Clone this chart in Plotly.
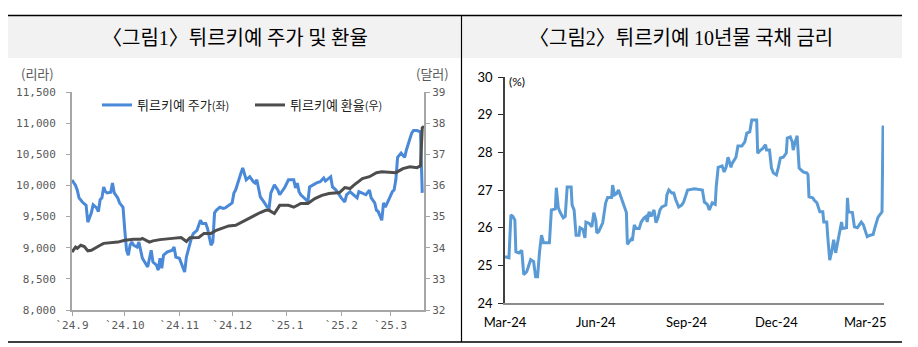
import plotly.graph_objects as go

W, H = 918, 347

# ---- Figure 1: Turkish stock index (lira, left) and USD/TRY (right) ----
stock_dates = [
    "2024-09-01", "2024-09-03", "2024-09-04", "2024-09-05", "2024-09-07", "2024-09-09",
    "2024-09-10", "2024-09-12", "2024-09-13", "2024-09-15", "2024-09-16", "2024-09-17",
    "2024-09-18", "2024-09-19", "2024-09-20", "2024-09-21", "2024-09-23", "2024-09-24",
    "2024-09-25", "2024-09-27", "2024-09-28", "2024-09-30", "2024-10-01", "2024-10-02",
    "2024-10-03", "2024-10-04", "2024-10-05", "2024-10-06", "2024-10-08", "2024-10-09",
    "2024-10-10", "2024-10-11", "2024-10-14", "2024-10-15", "2024-10-16", "2024-10-17",
    "2024-10-19", "2024-10-20", "2024-10-21", "2024-10-22", "2024-10-23", "2024-10-25",
    "2024-10-28", "2024-10-29", "2024-10-30", "2024-11-01", "2024-11-03", "2024-11-04",
    "2024-11-05", "2024-11-06", "2024-11-08", "2024-11-09", "2024-11-11", "2024-11-13",
    "2024-11-14", "2024-11-16", "2024-11-17", "2024-11-19", "2024-11-20", "2024-11-21",
    "2024-11-22", "2024-11-24", "2024-11-26", "2024-11-27", "2024-11-29", "2024-12-01",
    "2024-12-02", "2024-12-03", "2024-12-06", "2024-12-07", "2024-12-09", "2024-12-11",
    "2024-12-13", "2024-12-14", "2024-12-15", "2024-12-17", "2024-12-19", "2024-12-21",
    "2024-12-22", "2024-12-23", "2024-12-25", "2024-12-27", "2024-12-28", "2024-12-31",
    "2025-01-02", "2025-01-05", "2025-01-06", "2025-01-07", "2025-01-08", "2025-01-09",
    "2025-01-12", "2025-01-13", "2025-01-14", "2025-01-16", "2025-01-18", "2025-01-20",
    "2025-01-22", "2025-01-23", "2025-01-26", "2025-01-27", "2025-01-29", "2025-02-01",
    "2025-02-03", "2025-02-04", "2025-02-06", "2025-02-08", "2025-02-10", "2025-02-11",
    "2025-02-13", "2025-02-15", "2025-02-17", "2025-02-18", "2025-02-20", "2025-02-21",
    "2025-02-22", "2025-02-24", "2025-02-25", "2025-02-26", "2025-02-28", "2025-03-02",
    "2025-03-03", "2025-03-04", "2025-03-05", "2025-03-07", "2025-03-09", "2025-03-10",
    "2025-03-13", "2025-03-14", "2025-03-16", "2025-03-18", "2025-03-19",
]
stock_values = [
    10087, 10000, 9925, 9800, 9730, 9680,
    9410, 9560, 9690, 9640, 9580, 9770,
    9800, 9975, 9900, 9880, 9890, 10040,
    9880, 9800, 9720, 9650, 9280, 8960,
    8880, 9040, 9090, 9040, 9010, 9090,
    8960, 8830, 8690, 8830, 8960, 8770,
    8720, 8640, 8830, 8670, 8880, 8930,
    8960, 9010, 8850, 8830, 8690, 8610,
    8850, 8960, 9170, 9230, 9280, 9440,
    9390, 9390, 9310, 9040, 9090, 9560,
    9600, 9650, 9630, 9640, 9680, 9720,
    9880, 9930, 10200, 10280, 10090, 10140,
    10060, 10040, 10090, 9815, 9735, 9650,
    9640, 9880, 10010, 9925, 9850, 9975,
    10090, 10090, 9960, 10040, 9900, 9850,
    9770, 9735, 9975, 10010, 10040, 10060,
    10120, 10070, 10140, 9975, 9925, 9800,
    9735, 9850, 9900, 9850, 9800, 9900,
    9880, 9850, 9925, 9800, 9720, 9600,
    9580, 9440, 9720, 9650, 9770, 9900,
    9925, 10090, 10450, 10520, 10450, 10570,
    10840, 10880, 10880, 10860, 9880,
]

fx_dates = [
    "2024-09-01", "2024-09-03", "2024-09-04", "2024-09-06", "2024-09-08", "2024-09-10",
    "2024-09-12", "2024-09-15", "2024-09-17", "2024-09-19", "2024-09-23", "2024-09-27",
    "2024-10-01", "2024-10-03", "2024-10-06", "2024-10-10", "2024-10-11", "2024-10-15",
    "2024-10-17", "2024-10-21", "2024-10-25", "2024-10-28", "2024-11-02", "2024-11-05",
    "2024-11-07", "2024-11-11", "2024-11-12", "2024-11-15", "2024-11-19", "2024-11-22",
    "2024-11-25", "2024-11-29", "2024-12-03", "2024-12-06", "2024-12-12", "2024-12-17",
    "2024-12-20", "2024-12-22", "2024-12-25", "2024-12-28", "2025-01-02", "2025-01-05",
    "2025-01-09", "2025-01-13", "2025-01-17", "2025-01-21", "2025-01-25", "2025-01-31",
    "2025-02-03", "2025-02-06", "2025-02-08", "2025-02-13", "2025-02-17", "2025-02-21",
    "2025-02-24", "2025-03-04", "2025-03-08", "2025-03-12", "2025-03-16", "2025-03-18",
    "2025-03-19", "2025-03-20",
]
fx_values = [
    33.86, 34.02, 33.98, 34.08, 34.04, 33.90,
    33.92, 34.00, 34.08, 34.14, 34.15, 34.18,
    34.24, 34.26, 34.27, 34.27, 34.30, 34.18,
    34.22, 34.26, 34.27, 34.30, 34.33, 34.20,
    34.32, 34.33, 34.33, 34.46, 34.46, 34.56,
    34.62, 34.70, 34.72, 34.81, 34.97, 35.13,
    35.20, 35.20, 35.10, 35.36, 35.36, 35.30,
    35.42, 35.42, 35.58, 35.68, 35.74, 35.77,
    35.93, 35.90, 36.00, 36.22, 36.28, 36.41,
    36.44, 36.41, 36.54, 36.60, 36.57, 36.63,
    37.85, 37.90,
]

fig1_ticks = ["2024-09-01", "2024-10-01", "2024-11-01", "2024-12-01",
              "2025-01-01", "2025-02-01", "2025-03-01"]
fig1_ticktext = ["`24.9", "`24.10", "`24.11", "`24.12", "`25.1", "`25.2", "`25.3"]

# ---- Figure 2: Turkish 10-year government bond yield (%) ----
bond_dates = [
    "2024-03-01", "2024-03-05", "2024-03-07", "2024-03-09", "2024-03-11", "2024-03-12",
    "2024-03-15", "2024-03-18", "2024-03-20", "2024-03-23", "2024-03-27", "2024-03-30",
    "2024-04-01", "2024-04-03", "2024-04-05", "2024-04-07", "2024-04-09", "2024-04-15",
    "2024-04-17", "2024-04-21", "2024-04-22", "2024-04-24", "2024-04-26", "2024-04-29",
    "2024-05-01", "2024-05-03", "2024-05-07", "2024-05-08", "2024-05-10", "2024-05-12",
    "2024-05-15", "2024-05-16", "2024-05-19", "2024-05-21", "2024-05-22", "2024-05-25",
    "2024-05-28", "2024-05-30", "2024-06-01", "2024-06-02", "2024-06-04", "2024-06-06",
    "2024-06-08", "2024-06-11", "2024-06-13", "2024-06-17", "2024-06-18", "2024-06-20",
    "2024-06-22", "2024-06-24", "2024-06-26", "2024-06-28", "2024-07-02", "2024-07-03",
    "2024-07-07", "2024-07-08", "2024-07-10", "2024-07-12", "2024-07-15", "2024-07-17",
    "2024-07-20", "2024-07-22", "2024-07-23", "2024-07-25", "2024-07-27", "2024-07-30",
    "2024-08-01", "2024-08-03", "2024-08-05", "2024-08-07", "2024-08-11", "2024-08-12",
    "2024-08-14", "2024-08-17", "2024-08-19", "2024-08-21", "2024-08-24", "2024-08-27",
    "2024-08-29", "2024-09-02", "2024-09-09", "2024-09-17", "2024-09-19", "2024-09-22",
    "2024-09-24", "2024-09-27", "2024-09-30", "2024-10-01", "2024-10-03", "2024-10-07",
    "2024-10-09", "2024-10-11", "2024-10-13", "2024-10-16", "2024-10-17", "2024-10-21",
    "2024-10-23", "2024-10-27", "2024-10-30", "2024-11-01", "2024-11-04", "2024-11-06",
    "2024-11-11", "2024-11-12", "2024-11-15", "2024-11-17", "2024-11-20", "2024-11-21",
    "2024-11-24", "2024-11-26", "2024-11-28", "2024-12-01", "2024-12-03", "2024-12-05",
    "2024-12-08", "2024-12-11", "2024-12-12", "2024-12-15", "2024-12-17", "2024-12-18",
    "2024-12-20", "2024-12-22", "2024-12-24", "2024-12-28", "2025-01-01", "2025-01-02",
    "2025-01-03", "2025-01-07", "2025-01-08", "2025-01-11", "2025-01-14", "2025-01-17",
    "2025-01-18", "2025-01-21", "2025-01-22", "2025-01-24", "2025-01-26", "2025-01-28",
    "2025-01-30", "2025-02-01", "2025-02-03", "2025-02-05", "2025-02-06", "2025-02-10",
    "2025-02-11", "2025-02-12", "2025-02-16", "2025-02-18", "2025-02-21", "2025-02-25",
    "2025-02-27", "2025-03-03", "2025-03-06", "2025-03-09", "2025-03-11", "2025-03-14",
    "2025-03-18", "2025-03-19", "2025-03-20",
]
bond_values = [
    25.23, 25.20, 26.34, 26.30, 26.20, 25.36,
    25.33, 25.40, 24.75, 24.83, 25.15, 25.10,
    24.70, 24.70, 25.36, 25.80, 25.60, 25.60,
    26.47, 26.50, 27.06, 26.53, 26.40, 26.26,
    26.30, 27.08, 27.08, 26.60, 26.47, 25.80,
    25.80, 26.00, 25.95, 25.73, 26.15, 26.12,
    26.02, 26.40, 26.20, 25.86, 25.90, 26.00,
    26.13, 26.66, 26.80, 26.80, 27.13, 26.87,
    26.90, 27.00, 26.87, 26.70, 26.40, 25.56,
    25.70, 25.65, 26.07, 25.98, 25.98, 26.15,
    26.26, 26.30, 26.15, 26.42, 26.30, 26.47,
    26.13, 26.26, 26.47, 26.55, 26.60, 26.87,
    27.00, 26.92, 26.92, 26.74, 26.55, 26.60,
    26.68, 27.00, 27.03, 27.00, 26.68, 26.62,
    26.47, 26.66, 26.62, 27.08, 27.60, 27.64,
    27.48, 27.60, 27.87, 27.60, 27.70, 27.87,
    28.17, 28.17, 28.28, 28.51, 28.54, 28.86,
    28.86, 27.98, 28.06, 28.10, 28.20, 28.06,
    28.06, 27.58, 27.45, 27.40, 27.60, 27.85,
    27.87, 27.98, 28.38, 28.41, 28.28, 28.06,
    28.28, 28.44, 27.58, 27.48, 27.45, 27.40,
    26.82, 26.79, 26.74, 26.66, 26.42, 26.42,
    26.15, 26.15, 25.76, 25.14, 25.36, 25.68,
    25.33, 25.62, 25.94, 26.15, 25.98, 26.00,
    26.79, 26.42, 26.40, 26.02, 26.00, 26.15,
    26.08, 25.76, 25.80, 25.82, 26.02, 26.28,
    26.42, 28.67, 28.70,
]

BLUE = "#4a88d8"
DARK = "#4d4d4d"
BOND_BLUE = "#5b9bd5"
AXIS_GRAY = "#a6a6a6"
LABEL_GRAY = "#595959"
MONO = "DejaVu Sans Mono, Noto Sans CJK KR, monospace"
KR = "Noto Sans CJK KR, sans-serif"
LATO = "Lato, Open Sans, sans-serif"
SERIF_NUM = "<span style='font-family:Liberation Serif'>{}</span>"


def px(x):
    return x / W


def py(y):
    return 1 - y / H


fig = go.Figure()

fig.add_trace(go.Scatter(
    x=stock_dates, y=stock_values, xaxis="x", yaxis="y", mode="lines",
    name="튀르키예 주가<span style='font-size:11px'>(좌)</span>",
    line=dict(color=BLUE, width=3),
))
fig.add_trace(go.Scatter(
    x=fx_dates, y=fx_values, xaxis="x", yaxis="y2", mode="lines",
    name="튀르키예 환율<span style='font-size:11px'>(우)</span>",
    line=dict(color=DARK, width=3),
))
fig.add_trace(go.Scatter(
    x=bond_dates, y=bond_values, xaxis="x2", yaxis="y3", mode="lines",
    showlegend=False, line=dict(color=BOND_BLUE, width=3),
))

mono_tick = dict(family=MONO, size=11, color=LABEL_GRAY)
common = dict(automargin=False, showgrid=False, zeroline=False, showline=True)

fig.update_layout(
    width=W, height=H,
    margin=dict(l=0, r=0, t=0, b=0, autoexpand=False),
    paper_bgcolor="white", plot_bgcolor="white",
    showlegend=True,
    legend=dict(
        orientation="h", x=px(97), y=py(105), xanchor="left", yanchor="middle",
        font=dict(family=KR, size=13, color="#222222"),
        bgcolor="rgba(0,0,0,0)", borderwidth=0,
        entrywidth=108, entrywidthmode="pixels", tracegroupgap=0,
    ),
    xaxis=dict(
        domain=[px(72), px(424)], anchor="y", type="date",
        range=["2024-09-01", "2025-03-20"],
        tickvals=fig1_ticks, ticktext=fig1_ticktext,
        ticks="outside", ticklen=4, tickcolor=AXIS_GRAY, tickwidth=1,
        linecolor=AXIS_GRAY, linewidth=2, tickfont=mono_tick, **common,
    ),
    yaxis=dict(
        domain=[py(310), py(92)], anchor="x",
        range=[8000, 11500], dtick=500, tickformat=",",
        ticks="outside", ticklen=4, tickcolor=AXIS_GRAY, tickwidth=1,
        ticklabelstandoff=8,
        linecolor=AXIS_GRAY, linewidth=2, tickfont=mono_tick, **common,
    ),
    yaxis2=dict(
        overlaying="y", side="right", anchor="x",
        range=[32, 39], dtick=1,
        ticks="outside", ticklen=4, tickcolor=AXIS_GRAY, tickwidth=1,
        linecolor=AXIS_GRAY, linewidth=2, tickfont=mono_tick, **common,
    ),
    xaxis2=dict(
        domain=[px(505), px(884)], anchor="y3", type="date",
        range=["2024-03-01", "2025-03-20"],
        tick0="2024-03-01", dtick="M3", tickformat="%b-%y",
        ticks="", linecolor="#8c8c8c", linewidth=2, ticklabelstandoff=6,
        tickfont=dict(family=LATO, size=13, color="#000000"), **common,
    ),
    yaxis3=dict(
        domain=[py(303), py(77)], anchor="x2",
        range=[24, 30], dtick=1,
        ticks="outside", ticklen=5, tickcolor="#262626", tickwidth=1,
        ticklabelstandoff=3,
        linecolor="#404040", linewidth=1.5,
        tickfont=dict(family=LATO, size=13, color="#000000"), **common,
    ),
)

# Frame: header bands, rules and divider
shapes = [
    dict(type="rect", xref="paper", yref="paper",
         x0=px(8), x1=px(460.5), y0=py(58), y1=py(16),
         fillcolor="#f2f2f2", line=dict(width=0), layer="below"),
    dict(type="rect", xref="paper", yref="paper",
         x0=px(462.5), x1=px(902), y0=py(58), y1=py(16),
         fillcolor="#f2f2f2", line=dict(width=0), layer="below"),
    dict(type="line", xref="paper", yref="paper",
         x0=px(8), x1=px(902), y0=py(15.5), y1=py(15.5),
         line=dict(color="#000000", width=1.5)),
    dict(type="line", xref="paper", yref="paper",
         x0=px(8), x1=px(902), y0=py(342), y1=py(342),
         line=dict(color="#000000", width=1.5)),
    dict(type="line", xref="paper", yref="paper",
         x0=px(461.5), x1=px(461.5), y0=py(15.5), y1=py(342),
         line=dict(color="#000000", width=1.2)),
]
fig.update_layout(shapes=shapes)

title1 = "〈그림" + SERIF_NUM.format("1") + "〉튀르키예 주가 및 환율"
title2 = "〈그림" + SERIF_NUM.format("2") + "〉튀르키예 " + SERIF_NUM.format("10") + "년물 국채 금리"

annotations = [
    dict(text=title1, x=px(235), y=py(37),
         font=dict(family=KR, size=20, color="#000000")),
    dict(text=title2, x=px(681), y=py(37),
         font=dict(family=KR, size=20, color="#000000")),
    dict(text="(리라)", x=px(37), y=py(74),
         font=dict(family=KR, size=13, color=LABEL_GRAY)),
    dict(text="(달러)", x=px(432), y=py(74),
         font=dict(family=KR, size=13, color=LABEL_GRAY)),
    dict(text="(%)", x=px(507), y=py(81), xanchor="left",
         font=dict(family=LATO, size=12, color="#000000")),
]
for a in annotations:
    a.setdefault("xanchor", "center")
    a.update(xref="paper", yref="paper", yanchor="middle", showarrow=False)
fig.update_layout(annotations=annotations)

fig.write_html("out.html")
